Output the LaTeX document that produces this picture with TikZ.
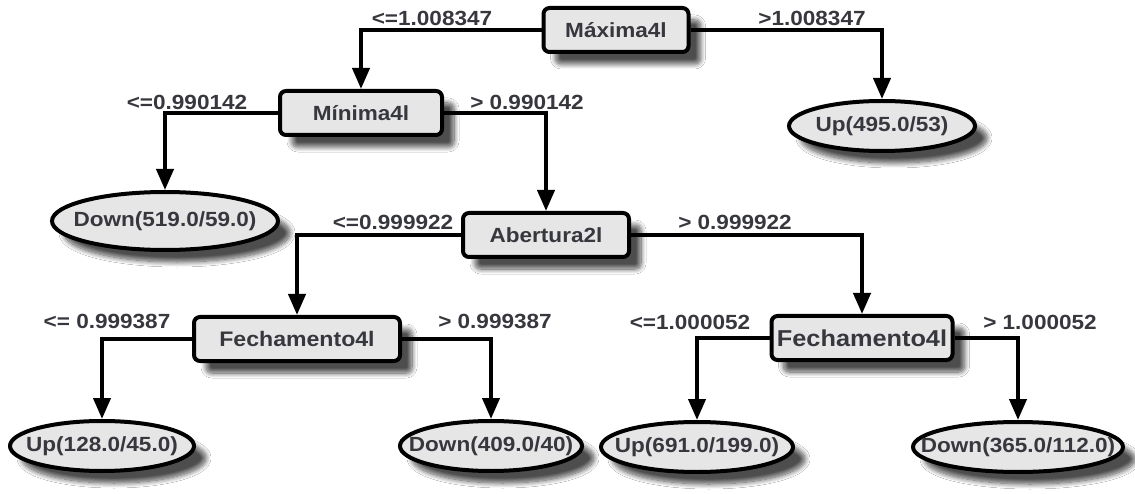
\documentclass[tikz,border=0pt]{standalone}
\usepackage{fontspec}
\setmainfont{Liberation Sans}[FakeStretch=1.1]
\usetikzlibrary{arrows.meta,shapes.geometric,shadows.blur}
\definecolor{txt}{RGB}{55,55,62}
\definecolor{nodefill}{RGB}{230,230,230}
\tikzset{
  base/.style={draw=black, line width=4pt, fill=nodefill, text=txt,
    font=\fontsize{20.5}{24}\selectfont\bfseries,
    blur shadow={shadow xshift=12pt, shadow yshift=-12pt, shadow blur steps=10,
      shadow opacity=70, shadow blur radius=5pt}},
  testbox/.style={base, rectangle, rounded corners=6pt, minimum height=44pt, inner sep=0pt},
  leaf/.style={base, ellipse, minimum height=50pt, inner sep=0pt},
  lbl/.style={text=txt, font=\fontsize{20.5}{24}\selectfont\bfseries, inner sep=0pt},
  conn/.style={line width=4pt, -{Triangle[length=21pt,width=17pt]}},
}
\begin{document}
\begin{tikzpicture}[x=1pt,y=-1pt]
\useasboundingbox (0,0) rectangle (1135,494);
\fill[white] (0,0) rectangle (1135,494);

\node[testbox, minimum width=145pt] (max) at (616,30) {Máxima4l};
\node[testbox, minimum width=162pt] (min) at (361,113) {Mínima4l};
\node[testbox, minimum width=166pt] (ab) at (546,235) {Abertura2l};
\node[testbox, minimum width=206pt, font=\fontsize{21}{24}\selectfont\bfseries] (f1) at (297,339) {Fechamento4l};
\node[testbox, minimum width=181pt, font=\fontsize{23}{26}\selectfont\bfseries] (f2) at (862,338) {Fechamento4l};

\node[leaf, minimum width=186pt] (up1) at (882,126) {\makebox[0pt]{Up(495.0/53)}};
\node[leaf, minimum width=226pt, minimum height=58pt] (down1) at (165,221) {\makebox[0pt]{Down(519.0/59.0)}};
\node[leaf, minimum width=184pt] (up2) at (102,446) {\makebox[0pt]{Up(128.0/45.0)}};
\node[leaf, minimum width=182pt] (down2) at (491,446) {\makebox[0pt]{Down(409.0/40)}};
\node[leaf, minimum width=192pt] (up3) at (697,447) {\makebox[0pt]{Up(691.0/199.0)}};
\node[leaf, minimum width=210pt] (down3) at (1018,447) {\makebox[0pt]{Down(365.0/112.0)}};

\draw[conn] (max.west) -| (min.north);
\draw[conn] (max.east) -| (up1.north);
\draw[conn] (min.west) -| (down1.north);
\draw[conn] (min.east) -| (ab.north);
\draw[conn] (ab.west) -| (f1.north);
\draw[conn] (ab.east) -| (f2.north);
\draw[conn] (f1.west) -| (up2.north);
\draw[conn] (f1.east) -| (down2.north);
\draw[conn] (f2.west) -| (up3.north);
\draw[conn] (f2.east) -| (down3.north);

\node[lbl] (l1) at (432,18) {<=1.008347};
\node[lbl] (l2) at (812,18) {>1.008347};
\node[lbl] (l3) at (187,102) {<=0.990142};
\node[lbl] (l4) at (527,102) {> 0.990142};
\node[lbl] (l5) at (393,222) {<=0.999922};
\node[lbl] (l6) at (735,222) {> 0.999922};
\node[lbl] (l7) at (107,321) {<= 0.999387};
\node[lbl] (l8) at (495,321) {> 0.999387};
\node[lbl] (l9) at (690,322) {<=1.000052};
\node[lbl] (l10) at (1040,322) {> 1.000052};
\end{tikzpicture}
\end{document}
